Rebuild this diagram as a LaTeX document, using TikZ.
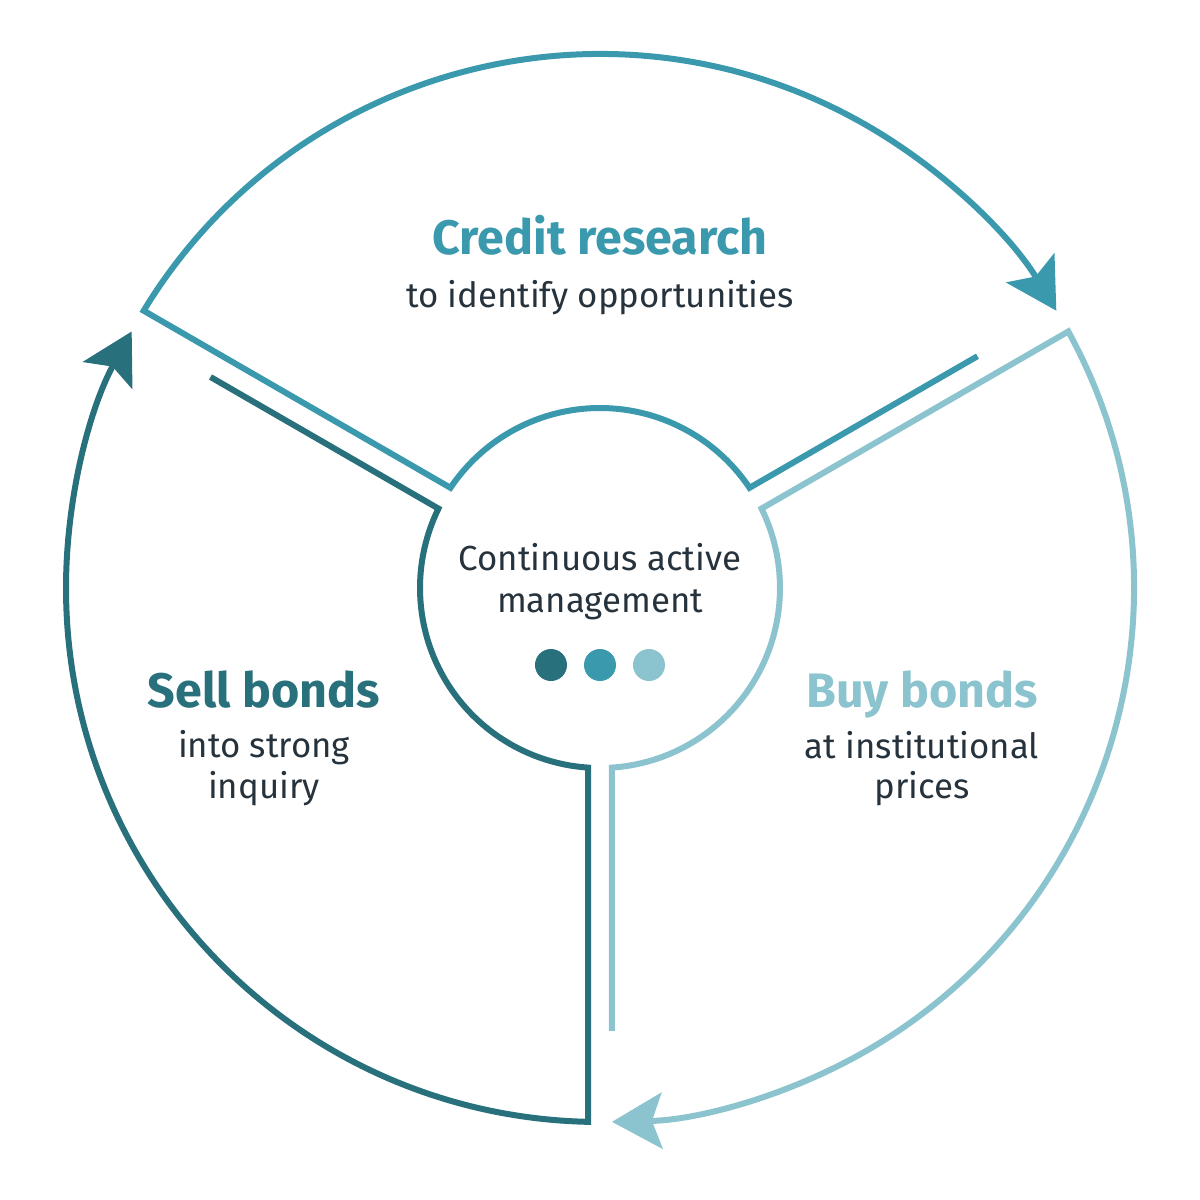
\documentclass[tikz,border=0pt]{standalone}
\usepackage{fontspec}
\setmainfont{Fira Sans}
\usepackage{xcolor}
\usetikzlibrary{arrows.meta}
\definecolor{darkteal}{HTML}{28707C}
\definecolor{midteal}{HTML}{3A99AD}
\definecolor{lightteal}{HTML}{8BC4CE}
\definecolor{inkgray}{HTML}{26323C}

\begin{document}
\begin{tikzpicture}[x=0.5pt, y=0.5pt,
  ring/.style={line width=3pt},
  tip/.style={-{Stealth[length=25pt, width=28pt, inset=5pt]}},
  head/.style={anchor=base, font=\fontsize{24.2}{29}\selectfont\bfseries},
  sub/.style={anchor=base, text=inkgray, font=\fontsize{17.4}{21}\selectfont}]
  \useasboundingbox (-600,-612) rectangle (600,588);
  % credit research arm
  \draw[ring, tip, midteal] ({30+asin(12/443)}:443) -- ({30+asin(12/180)}:180)
    arc[start angle={30+asin(12/180)}, end angle={150-asin(12/180)}, radius=180]
    -- ({150-asin(12/534)}:534)
    arc[start angle={150-asin(12/534)}, end angle={30+asin(12/534)}, radius=534];
  % buy bonds arm
  \draw[ring, tip, lightteal] ({-90+asin(12/443)}:443) -- ({-90+asin(12/180)}:180)
    arc[start angle={-90+asin(12/180)}, end angle={30-asin(12/180)}, radius=180]
    -- ({30-asin(12/534)}:534)
    arc[start angle={30-asin(12/534)}, end angle={-90+asin(12/534)}, radius=534];
  % sell bonds arm
  \draw[ring, tip, darkteal] ({150+asin(12/443)}:443) -- ({150+asin(12/180)}:180)
    arc[start angle={150+asin(12/180)}, end angle={270-asin(12/180)}, radius=180]
    -- ({270-asin(12/534)}:534)
    arc[start angle={270-asin(12/534)}, end angle={150+asin(12/534)}, radius=534];

  \node[head, text=midteal] (credit) at (0,333) {Credit research};
  \node[sub] (creditsub) at (0,281) {to identify opportunities};

  \node[sub] (centre1) at (0,18) {Continuous active};
  \node[sub] (centre2) at (0,-24) {management};
  \fill[darkteal] (-49,-77) circle[radius=16];
  \fill[midteal] (0,-77) circle[radius=16];
  \fill[lightteal] (49,-77) circle[radius=16];

  \node[head, text=darkteal] (sell) at (-336,-119) {Sell bonds};
  \node[sub] (sell1) at (-336,-169) {into strong};
  \node[sub] (sell2) at (-336,-210) {inquiry};

  \node[head, text=lightteal] (buy) at (322,-119) {Buy bonds};
  \node[sub] (buy1) at (322,-170) {at institutional};
  \node[sub] (buy2) at (322,-210) {prices};
\end{tikzpicture}
\end{document}
